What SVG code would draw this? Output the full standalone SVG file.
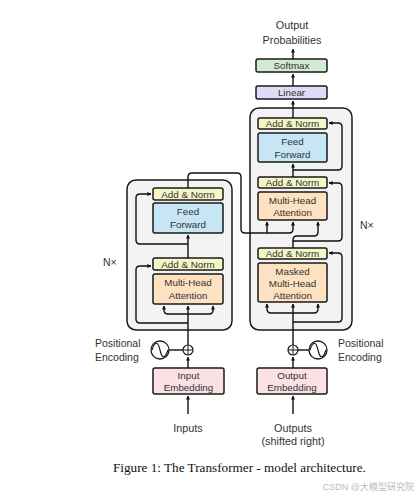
<svg xmlns="http://www.w3.org/2000/svg" width="419" height="497" viewBox="0 0 419 497">
<style>
text{font-family:"Liberation Sans",Arial,sans-serif;fill:#333;}
.lbl{font-size:9.8px;text-anchor:middle;}
.big{font-size:10.8px;text-anchor:middle;}
.side{font-size:10.5px;}
.n{stroke:#1a1a1a;stroke-width:1.5;}
.outer{fill:#f3f3f3;stroke:#1a1a1a;stroke-width:1.5;}
.an{fill:#f4f6c6;}
.ff{fill:#c7e6f5;}
.mha{fill:#fde1c0;}
.lin{fill:#dcdcf4;}
.sm{fill:#d2ebd2;}
.emb{fill:#fbe1e4;}
.c path,.c line{fill:none;stroke:#111;stroke-width:1.4;}
.c .a{marker-end:url(#ah);}
</style>
<defs>
<marker id="ah" viewBox="0 0 10 10" refX="9" refY="5" markerWidth="4" markerHeight="4" markerUnits="userSpaceOnUse" orient="auto"><path d="M0,0 L10,5 L0,10 z" fill="#111"/></marker>
</defs>
<rect width="419" height="497" fill="#fff"/>

<g id="encoder-stack">
<rect class="outer" x="127" y="180" width="105" height="150" rx="9"/>
</g>
<g id="decoder-stack">
<rect class="outer" x="250" y="108" width="102" height="222" rx="9"/>
</g>

<g id="enc-addnorm2"><rect class="n an" x="153" y="188" width="70" height="12" rx="2"/><text class="lbl" x="188" y="197.5">Add &amp; Norm</text></g>
<g id="enc-ff"><rect class="n ff" x="153" y="203" width="70" height="30" rx="2"/><text class="lbl" x="188" y="215">Feed</text><text class="lbl" x="188" y="227.5">Forward</text></g>
<g id="enc-addnorm1"><rect class="n an" x="153" y="258" width="70" height="12" rx="2"/><text class="lbl" x="188" y="267.5">Add &amp; Norm</text></g>
<g id="enc-mha"><rect class="n mha" x="153" y="274" width="70" height="30" rx="2"/><text class="lbl" x="188" y="286">Multi-Head</text><text class="lbl" x="188" y="298.5">Attention</text></g>

<g id="dec-addnorm3"><rect class="n an" x="258" y="118" width="69" height="11" rx="2"/><text class="lbl" x="292.5" y="127">Add &amp; Norm</text></g>
<g id="dec-ff"><rect class="n ff" x="258" y="133" width="69" height="29" rx="2"/><text class="lbl" x="292.5" y="145">Feed</text><text class="lbl" x="292.5" y="157.5">Forward</text></g>
<g id="dec-addnorm2"><rect class="n an" x="258" y="177" width="69" height="11" rx="2"/><text class="lbl" x="292.5" y="186">Add &amp; Norm</text></g>
<g id="dec-mha"><rect class="n mha" x="258" y="192" width="69" height="28" rx="2"/><text class="lbl" x="292.5" y="203.5">Multi-Head</text><text class="lbl" x="292.5" y="215.5">Attention</text></g>
<g id="dec-addnorm1"><rect class="n an" x="258" y="248" width="69" height="11" rx="2"/><text class="lbl" x="292.5" y="257">Add &amp; Norm</text></g>
<g id="dec-masked"><rect class="n mha" x="258" y="263" width="69" height="39" rx="2"/><text class="lbl" x="292.5" y="274.5">Masked</text><text class="lbl" x="292.5" y="286.5">Multi-Head</text><text class="lbl" x="292.5" y="298.5">Attention</text></g>

<g id="linear"><rect class="n lin" x="256" y="86" width="71" height="13" rx="2"/><text class="lbl" x="291.5" y="95.8">Linear</text></g>
<g id="softmax"><rect class="n sm" x="256" y="59" width="71" height="13" rx="2"/><text class="lbl" x="291.5" y="68.8">Softmax</text></g>
<g id="output-probs"><text class="big" x="292" y="29">Output</text><text class="big" x="292" y="44">Probabilities</text></g>

<g id="input-embedding"><rect class="n emb" x="153" y="368" width="71" height="26" rx="2"/><text class="lbl" x="188.5" y="378.5">Input</text><text class="lbl" x="188.5" y="390.5">Embedding</text></g>
<g id="output-embedding"><rect class="n emb" x="257" y="368" width="70" height="26" rx="2"/><text class="lbl" x="292" y="378.5">Output</text><text class="lbl" x="292" y="390.5">Embedding</text></g>

<g id="enc-posenc">
<circle cx="160" cy="350" r="9" fill="#fff" stroke="#1a1a1a" stroke-width="1.3"/>
<path d="M152,350 C155,341 158,341 160,350 C162,359 165,359 168,350" fill="none" stroke="#1a1a1a" stroke-width="1.2"/>
<text class="side" x="95" y="347">Positional</text><text class="side" x="95" y="361">Encoding</text>
</g>
<g id="enc-plus">
<circle cx="188" cy="350" r="5" fill="#fff" stroke="#1a1a1a" stroke-width="1.2"/>
<path d="M183,350 H193 M188,345 V355" stroke="#1a1a1a" stroke-width="1"/>
</g>
<g id="dec-posenc">
<circle cx="318" cy="350" r="9" fill="#fff" stroke="#1a1a1a" stroke-width="1.3"/>
<path d="M310,350 C313,341 316,341 318,350 C320,359 323,359 326,350" fill="none" stroke="#1a1a1a" stroke-width="1.2"/>
<text class="side" x="338" y="347">Positional</text><text class="side" x="338" y="361">Encoding</text>
</g>
<g id="dec-plus">
<circle cx="293" cy="350" r="5" fill="#fff" stroke="#1a1a1a" stroke-width="1.2"/>
<path d="M288,350 H298 M293,345 V355" stroke="#1a1a1a" stroke-width="1"/>
</g>

<g id="inputs"><text class="big" x="188" y="432">Inputs</text></g>
<g id="outputs"><text class="big" x="293" y="432">Outputs</text><text class="big" x="293" y="445">(shifted right)</text></g>
<g id="nx-left"><text class="side" x="103" y="266" fill="#444">N×</text></g>
<g id="nx-right"><text class="side" x="360" y="229" fill="#444">N×</text></g>

<g id="connectors" class="c">
<path class="a" d="M188,414 V396"/>
<path class="a" d="M188,368 V357"/>
<line x1="169" y1="350" x2="183" y2="350"/>
<path class="a" d="M188,345 V306"/>
<path class="a" d="M188,314 H168 Q164,314 164,310 V306"/>
<path class="a" d="M188,314 H209 Q213,314 213,310 V306"/>
<path class="a" d="M188,323 H140 Q136,323 136,319 V270 Q136,266 140,266 H151"/>
<path class="a" d="M188,258 V235"/>
<path class="a" d="M188,244 H140 Q136,244 136,240 V198 Q136,194 140,194 H151"/>
<path class="a" d="M188,188 V177 Q188,173 192,173 H237 Q241,173 241,177 V229 Q241,233 245,233 H289 Q293,233 293,229 V222"/>
<path class="a" d="M267,233 V222"/>
<path class="a" d="M293,414 V396"/>
<path class="a" d="M293,368 V357"/>
<line x1="298" y1="350" x2="309" y2="350"/>
<path class="a" d="M293,345 V304"/>
<path class="a" d="M293,313 H271 Q267,313 267,309 V304"/>
<path class="a" d="M293,313 H314 Q318,313 318,309 V304"/>
<path class="a" d="M293,322 H338 Q342,322 342,318 V257 Q342,253 338,253 H329"/>
<path class="a" d="M293,248 V240 Q293,236 297,236 H314 Q318,236 318,232 V222"/>
<path class="a" d="M293,241 H338 Q342,241 342,237 V187 Q342,183 338,183 H329"/>
<path class="a" d="M293,177 V164"/>
<path class="a" d="M293,170 H338 Q342,170 342,166 V127 Q342,123 338,123 H329"/>
<path class="a" d="M293,118 V101"/>
<path class="a" d="M293,86 V74"/>
<path class="a" d="M293,59 V49"/>
</g>

<g id="caption">
<text x="113" y="472" style="font-family:'Liberation Serif','Times New Roman',serif;font-size:13.2px;fill:#111">Figure 1: The Transformer - model architecture.</text>
<text x="414" y="490" text-anchor="end" style="font-family:'Liberation Sans','Noto Sans CJK SC',sans-serif;font-size:9px;fill:#bbb">CSDN @大模型研究院</text>
</g>
</svg>
